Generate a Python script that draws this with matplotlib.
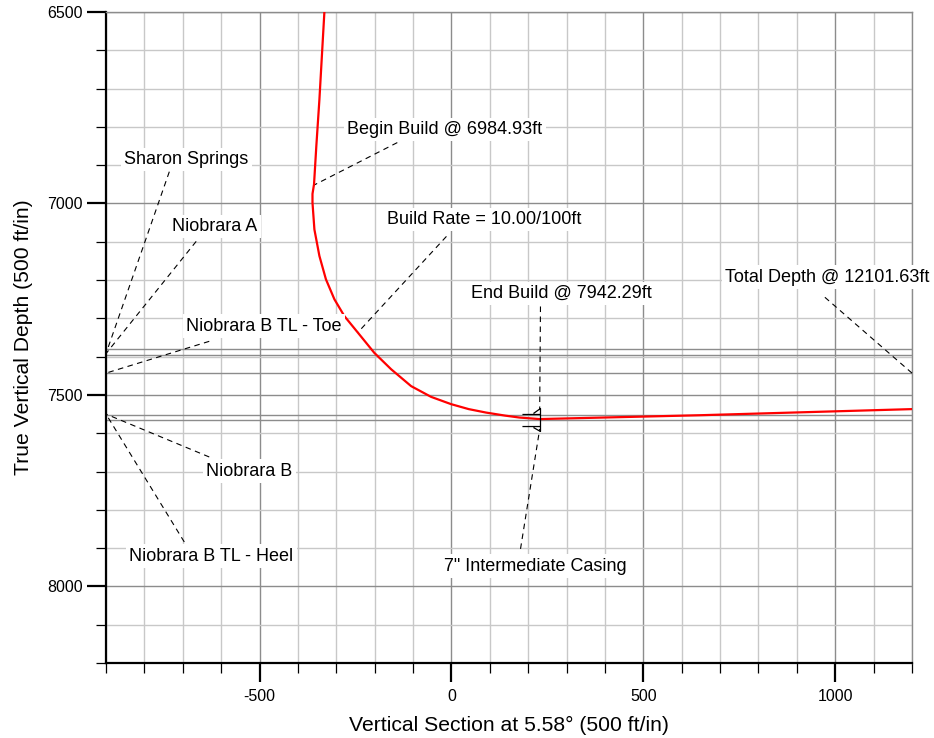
import numpy as np
import matplotlib.pyplot as plt
from matplotlib.path import Path
from matplotlib.ticker import MultipleLocator

plt.rcParams['font.family'] = ['Liberation Sans', 'DejaVu Sans']
plt.rcParams['axes.unicode_minus'] = False

# well path: vertical section (ft) vs TVD (ft)
well_vs = [-331, -344, -352, -358, -362, -362, -357, -344, -327, -305, -279,
           -244, -201, -157, -105, -53, -1, 45, 90, 140, 177, 230, 647, 1200]
well_tvd = [6500, 6729, 6850, 6950, 6975, 6998, 7068, 7137, 7198, 7250, 7294,
            7337, 7390, 7433, 7477, 7505, 7524, 7537, 7546, 7554, 7559, 7563, 7553, 7537]

# formation tops (TVD) and where their labels sit
form_names = ['Sharon Springs', 'Niobrara A', 'Niobrara B TL - Toe', 'Niobrara B', 'Niobrara B TL - Heel']
form_lines = [7380, 7397, 7443, 7553, 7566]
form_tip = [7392, 7392, 7443, 7550, 7550]
form_text_xy = [(-691, 6885), (-616, 7060), (-488, 7321), (-527, 7699), (-626, 7921)]
form_lead_xy = [(-735, 6917), (-665, 7099), (-631, 7360), (-631, 7662), (-696, 7884)]

# well events
event_text = ['Begin Build @ 6984.93ft', 'Build Rate = 10.00/100ft', 'End Build @ 7942.29ft',
              '7" Intermediate Casing', 'Total Depth @ 12101.63ft']
event_tip = [(-360, 6953), (-244, 7337), (230, 7537), (230, 7589), (1200, 7443)]
event_text_xy = [(-18, 6807), (85, 7042), (286, 7235), (219, 7947), (979, 7193)]
event_lead_xy = [(-141, 6841), (-13, 7086), (232, 7269), (180, 7902), (973, 7245)]

casing_vs, casing_tvd = 230, 7563

fig = plt.figure(figsize=(9.34, 7.38), dpi=100)
ax = fig.add_axes([106 / 934, 1 - 663 / 738, 806 / 934, 651 / 738])

ax.set_xlim(-900, 1200)
ax.set_ylim(8200, 6500)

ax.xaxis.set_major_locator(MultipleLocator(500))
ax.xaxis.set_minor_locator(MultipleLocator(100))
ax.yaxis.set_major_locator(MultipleLocator(500))
ax.yaxis.set_minor_locator(MultipleLocator(100))

ax.grid(which='minor', color='#c8c8c8', lw=1.0, zorder=0)
ax.grid(which='major', color='#8c8c8c', lw=1.0, zorder=0)
ax.set_axisbelow(True)

ax.tick_params(which='major', direction='out', length=14, width=1.6, labelsize=11.5, pad=5)
ax.tick_params(which='minor', direction='out', length=7, width=0.9)
ax.tick_params(axis='y', which='major', pad=3)

for s in ['left', 'bottom']:
    ax.spines[s].set_linewidth(1.6)
    ax.spines[s].set_color('black')
for s in ['top', 'right']:
    ax.spines[s].set_linewidth(1.0)
    ax.spines[s].set_color('#8c8c8c')

ax.set_xlabel('Vertical Section at 5.58\u00b0 (500 ft/in)', fontsize=15.2, labelpad=8)
ax.set_ylabel('True Vertical Depth (500 ft/in)', fontsize=15.2, labelpad=10)

for d in form_lines:
    ax.axhline(d, color='#8c8c8c', lw=1.0, zorder=1)

ax.plot(well_vs, well_tvd, color='#ff0000', lw=1.6, zorder=4, solid_joinstyle='round')

dash = (0, (5, 4))
box = dict(facecolor='white', edgecolor='none', pad=2.5)

for name, tip, txy, lxy in zip(form_names, form_tip, form_text_xy, form_lead_xy):
    ax.plot([lxy[0], -900], [lxy[1], tip], color='black', lw=0.8, ls=dash, zorder=3, clip_on=False)
    ax.text(txy[0], txy[1], name, fontsize=13, ha='center', va='center', bbox=box, zorder=5)

for name, tip, txy, lxy in zip(event_text, event_tip, event_text_xy, event_lead_xy):
    ax.plot([lxy[0], tip[0]], [lxy[1], tip[1]], color='black', lw=0.8, ls=dash, zorder=3, clip_on=False)
    ax.text(txy[0], txy[1], name, fontsize=13, ha='center', va='center', bbox=box,
            zorder=5, clip_on=False)

# casing shoe symbol
verts = [(-18, 5), (0, 5), (0, 11), (-7, 6), (0, 11), (0, -12),
         (-18, -7), (0, -7), (-7, -8), (0, -12)]
codes = [Path.MOVETO, Path.LINETO, Path.MOVETO, Path.LINETO, Path.MOVETO, Path.LINETO,
         Path.MOVETO, Path.LINETO, Path.MOVETO, Path.LINETO]
shoe = Path(verts, codes)
ax.plot([casing_vs], [casing_tvd], marker=shoe, markersize=26, color='black',
        mfc='none', mew=0.9, ls='none', zorder=6)

fig.savefig('out.png', dpi=100)
